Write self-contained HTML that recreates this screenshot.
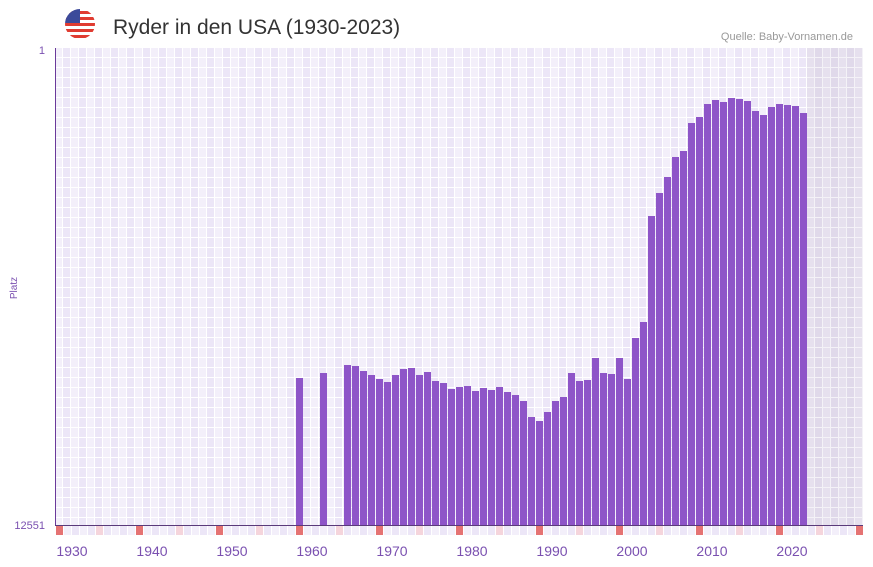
<!DOCTYPE html>
<html><head><style>
body{margin:0;background:#fff;}
svg{display:block;font-family:"Liberation Sans",sans-serif;}
</style></head><body>
<svg width="873" height="567" xmlns="http://www.w3.org/2000/svg">
<defs>
<pattern id="g" x="55" y="48" width="16" height="10" patternUnits="userSpaceOnUse">
<rect width="8" height="10" fill="#f3effa"/><rect x="8" width="8" height="10" fill="#ece6f7"/>
<rect x="7" width="1" height="10" fill="#fff"/><rect x="15" width="1" height="10" fill="#fff"/>
<rect y="9" width="16" height="1" fill="#fff"/>
</pattern>
<pattern id="g2" x="55" y="48" width="16" height="10" patternUnits="userSpaceOnUse">
<rect width="8" height="10" fill="#e6e0ee"/><rect x="8" width="8" height="10" fill="#e0d9ea"/>
<rect x="7" width="1" height="10" fill="#f4f2f7"/><rect x="15" width="1" height="10" fill="#f4f2f7"/>
<rect y="9" width="16" height="1" fill="#f4f2f7"/>
</pattern>
<clipPath id="c"><circle cx="80" cy="24" r="15"/></clipPath>
</defs>
<g clip-path="url(#c)">
<rect x="65" y="9" width="30" height="30" fill="#fff"/>
<rect x="65" y="11" width="30" height="3" fill="#e03c31"/>
<rect x="65" y="17" width="30" height="3" fill="#e03c31"/>
<rect x="65" y="23" width="30" height="3" fill="#e03c31"/>
<rect x="65" y="29" width="30" height="3" fill="#e03c31"/>
<rect x="65" y="35" width="30" height="3" fill="#e03c31"/>
<rect x="65" y="9" width="15" height="14" fill="#3c4a9a"/>
</g>
<text x="113" y="34" font-size="21" fill="#333">Ryder in den USA (1930-2023)</text>
<text x="853" y="40" font-size="11" fill="#999" text-anchor="end">Quelle: Baby-Vornamen.de</text>
<rect x="55" y="48" width="808" height="477" fill="url(#g)"/>
<rect x="807" y="48" width="56" height="477" fill="url(#g2)"/>
<g fill="#8e55c8" id="bars"></g>
<line x1="55.5" y1="48" x2="55.5" y2="525" stroke="#6a3a9a" stroke-width="1"/>
<line x1="55" y1="525.5" x2="863" y2="525.5" stroke="#5a3a7a" stroke-width="1"/>
<g id="strip"></g>
<text x="45" y="54" font-size="11" fill="#7a50b0" text-anchor="end">1</text>
<text x="45" y="529" font-size="11" fill="#7a50b0" text-anchor="end">12551</text>
<text transform="translate(17,288) rotate(-90)" font-size="10" fill="#7a50b0" text-anchor="middle">Platz</text>
<g font-size="14" fill="#7a50b0" text-anchor="middle">
<text x="72" y="556">1930</text><text x="152" y="556">1940</text><text x="232" y="556">1950</text>
<text x="312" y="556">1960</text><text x="392" y="556">1970</text><text x="472" y="556">1980</text>
<text x="552" y="556">1990</text><text x="632" y="556">2000</text><text x="712" y="556">2010</text>
<text x="792" y="556">2020</text>
</g>
<script>
var d={1958:378,1961:373,1964:365,1965:366,1966:371,1967:375,1968:379,1969:382,1970:375,1971:369,1972:368,1973:375,1974:372,1975:381,1976:383,1977:389,1978:387,1979:386,1980:391,1981:388,1982:390,1983:387,1984:392,1985:395,1986:401,1987:417,1988:421,1989:412,1990:401,1991:397,1992:373,1993:381,1994:380,1995:358,1996:373,1997:374,1998:358,1999:379,2000:338,2001:322,2002:216,2003:193,2004:177,2005:157,2006:151,2007:123,2008:117,2009:104,2010:100,2011:102,2012:98,2013:99,2014:101,2015:111,2016:115,2017:107,2018:104,2019:105,2020:106,2021:113};
var ns="http://www.w3.org/2000/svg",b=document.getElementById("bars"),s=document.getElementById("strip");
for(var y in d){var r=document.createElementNS(ns,"rect");var x=55+(y-1928)*8+1;r.setAttribute("x",x);r.setAttribute("y",d[y]);r.setAttribute("width",7);r.setAttribute("height",525-d[y]);b.appendChild(r);}
for(var y=1928;y<=2028;y++){var x=55+(y-1928)*8+1;var r=document.createElementNS(ns,"rect");r.setAttribute("x",x);r.setAttribute("y",526);r.setAttribute("width",7);r.setAttribute("height",9);
var m=y%10;r.setAttribute("fill",m==8?"#e57373":(m==3?"#f5d5dc":(y%2?"#f3effa":"#ece6f7")));s.appendChild(r);}
</script>
</svg>
</body></html>
